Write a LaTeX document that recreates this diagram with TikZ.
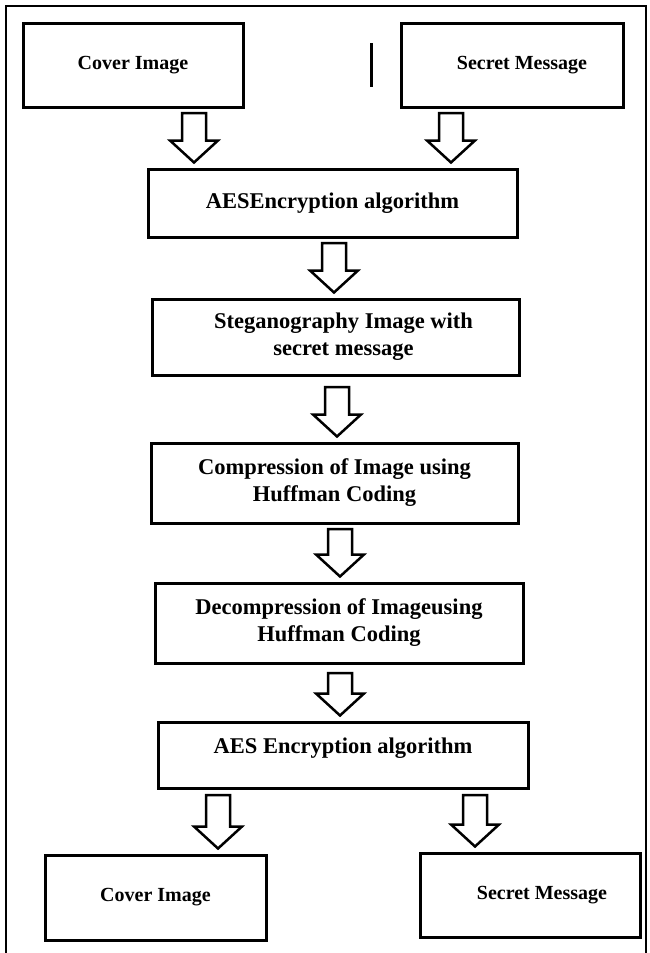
\documentclass[tikz,border=0pt]{standalone}
\usepackage{fontspec}
\setmainfont{Liberation Serif}
\usetikzlibrary{calc,positioning}

\tikzset{
  procbox/.style={draw, line width=3pt, align=center, inner sep=0pt,
    font=\bfseries\fontsize{20}{26}\selectfont},
  bigbox/.style={procbox, font=\bfseries\fontsize{22.5}{27}\selectfont},
  arrowbody/.style={draw, fill=white, line width=2.5pt, line join=miter},
  framebox/.style={line width=1.5pt},
}

% hollow block arrow from a start point down to the top of a box
\newcommand{\hollowarrow}[2]{%
  \draw[arrowbody] ($(#1)+(-12pt,0)$)
    -- ($(#1 |- #2.north)+(-12pt,27pt)$)
    -- ($(#1 |- #2.north)+(-24pt,27pt)$)
    -- ($(#1 |- #2.north)+(0,5pt)$)
    -- ($(#1 |- #2.north)+(24pt,27pt)$)
    -- ($(#1 |- #2.north)+(12pt,27pt)$)
    -- ($(#1)+(12pt,0)$) -- cycle;}

\begin{document}
\begin{tikzpicture}[x=1pt, y=-1pt]
    \useasboundingbox (0,0) rectangle (650,953);
    \draw[framebox] (6,953) -- (6,6) -- (646,6) -- (646,953);

    \coordinate (CI1) at (133,65);
    \coordinate (SM1) at (512,65);
    \coordinate (AE1) at (332.5,203);
    \coordinate (ST) at (335.5,337);
    \coordinate (CO) at (334.5,483);
    \coordinate (DC) at (339,623);
    \coordinate (AE2) at (343,755);
    \coordinate (CI2) at (155.5,897.5);
    \coordinate (SM2) at (530,895);

    \coordinate (BarTop) at (371,43);
    \coordinate (BarBot) at (371,87);

    \node[procbox, minimum width=220pt, minimum height=84pt] (cover1) at (CI1) {Cover Image};
    \node[procbox, minimum width=222pt, minimum height=84pt] (secret1) at (SM1) {\hspace*{20pt}Secret Message};
    \node[bigbox, minimum width=369pt, minimum height=68pt] (aesenc) at (AE1) {AESEncryption algorithm};
    \node[bigbox, minimum width=367pt, minimum height=76pt] (stego) at (ST) {\hspace*{16pt}Steganography Image with\\ \hspace*{16pt}secret message};
    \node[bigbox, minimum width=367pt, minimum height=80pt] (compr) at (CO) {Compression of Image using\\ Huffman Coding};
    \node[bigbox, minimum width=368pt, minimum height=80pt] (decompr) at (DC) {Decompression of Imageusing\\ Huffman Coding};
    \node[bigbox, minimum width=370pt, minimum height=66pt] (aesdec) at (AE2) {AES Encryption algorithm\\[-17pt]\strut};
    \node[procbox, minimum width=221pt, minimum height=85pt] (cover2) at (CI2) {Cover Image};
    \node[procbox, minimum width=220pt, minimum height=84pt] (secret2) at (SM2) {\hspace*{24pt}Secret Message};

    \draw[line width=3pt] (BarTop) -- (BarBot);

    \coordinate (A1L) at (194,113);
    \coordinate (A1R) at (451,113);
    \coordinate (A2) at (334,243);
    \coordinate (A3) at (337,387);
    \coordinate (A4) at (340,529);
    \coordinate (A5) at (340,673);
    \coordinate (A6L) at (218,795);
    \coordinate (A6R) at (475,795);

    \hollowarrow{A1L}{aesenc}
    \hollowarrow{A1R}{aesenc}
    \hollowarrow{A2}{stego}
    \hollowarrow{A3}{compr}
    \hollowarrow{A4}{decompr}
    \hollowarrow{A5}{aesdec}
    \hollowarrow{A6L}{cover2}
    \hollowarrow{A6R}{secret2}
\end{tikzpicture}
\end{document}
